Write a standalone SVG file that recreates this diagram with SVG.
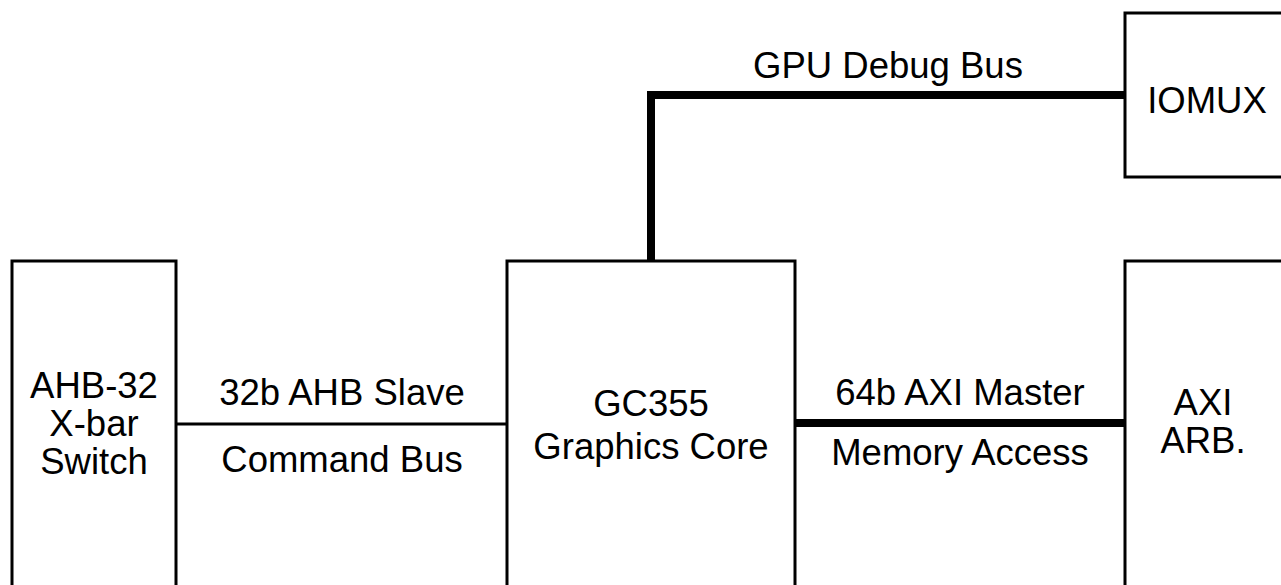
<svg xmlns="http://www.w3.org/2000/svg" width="1281" height="585" viewBox="0 0 1281 585">
<style>
.box{fill:#fff;stroke:#000;stroke-width:3}
.t{font-family:"Liberation Sans",Arial,Helvetica,sans-serif;font-size:36.5px;fill:#000;text-anchor:middle}
.thin{fill:none;stroke:#000;stroke-width:3}
.thick{fill:none;stroke:#000;stroke-width:8}
</style>
<rect width="1281" height="585" fill="#fff"/>
<g id="connectors">
<line class="thin" x1="176" y1="424" x2="507" y2="424"/>
<line class="thick" x1="795" y1="423" x2="1125" y2="423"/>
<path class="thick" d="M651 261 V95 H1125"/>
</g>
<g id="ahb">
<rect class="box" x="12" y="261" width="164" height="400"/>
<text class="t" x="94" y="398">AHB-32</text>
<text class="t" x="94" y="436">X-bar</text>
<text class="t" x="94" y="474">Switch</text>
</g>
<g id="gc355">
<rect class="box" x="507" y="261" width="288" height="400"/>
<text class="t" x="651" y="416">GC355</text>
<text class="t" x="651" y="459">Graphics Core</text>
</g>
<g id="iomux">
<rect class="box" x="1125" y="13" width="200" height="164"/>
<text class="t" x="1207" y="113">IOMUX</text>
</g>
<g id="axiarb">
<rect class="box" x="1125" y="261" width="200" height="400"/>
<text class="t" x="1203" y="415">AXI</text>
<text class="t" x="1203" y="453">ARB.</text>
</g>
<g id="labels">
<text class="t" x="888" y="78">GPU Debug Bus</text>
<text class="t" x="342" y="405">32b AHB Slave</text>
<text class="t" x="342" y="472">Command Bus</text>
<text class="t" x="960" y="405">64b AXI Master</text>
<text class="t" x="960" y="465">Memory Access</text>
</g>
</svg>
